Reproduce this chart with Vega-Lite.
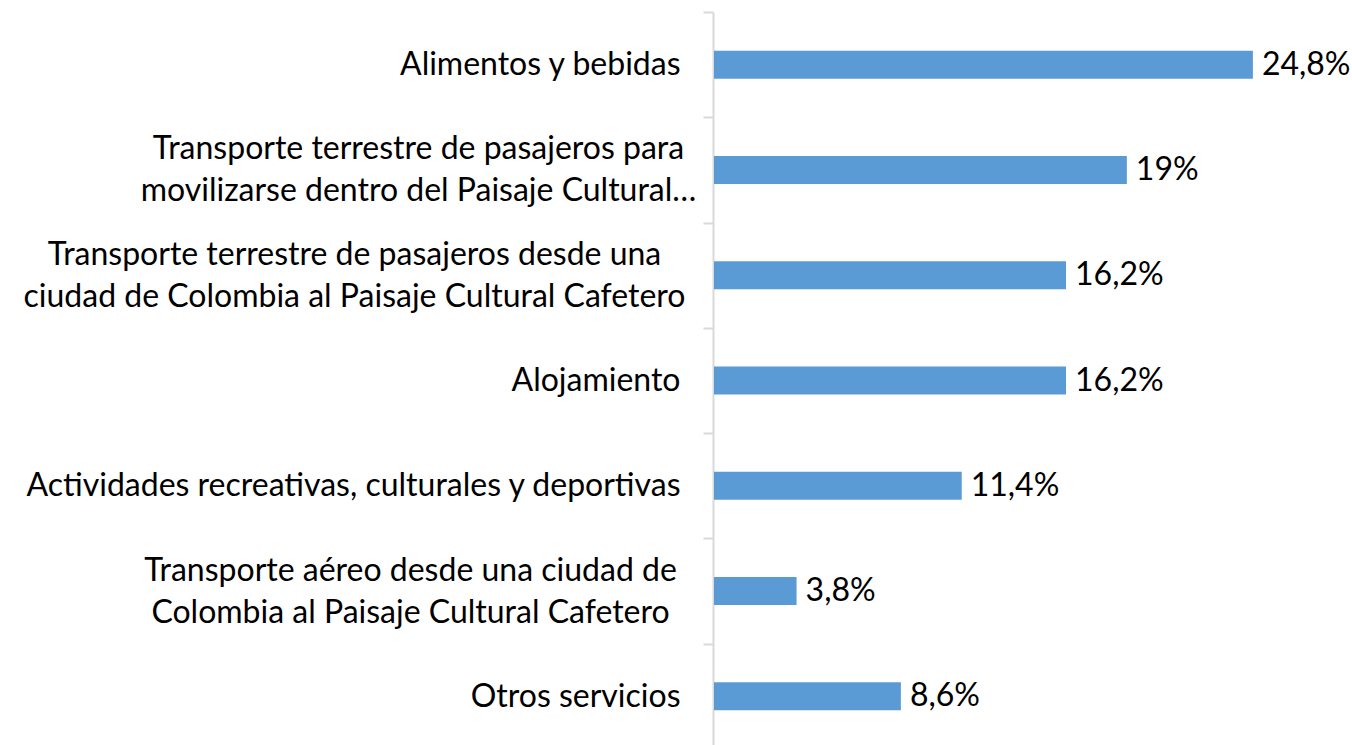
{
  "$schema": "https://vega.github.io/schema/vega-lite/v6.json",
  "width": 638,
  "height": 737,
  "autosize": {"type": "none"},
  "padding": {"left": 714, "top": 12, "right": 0, "bottom": 0},
  "background": "white",
  "config": {
    "view": {"stroke": null},
    "font": "Lato",
    "locale": {"number": {"decimal": ",", "thousands": ".", "grouping": [3], "currency": ["", " €"]}}
  },
  "data": {
    "values": [
      {"cat": "Alimentos y bebidas", "v": 0.248},
      {"cat": "Transporte terrestre de pasajeros para|movilizarse dentro del Paisaje Cultural…", "v": 0.19},
      {"cat": "Transporte terrestre de pasajeros desde una|ciudad de Colombia al Paisaje Cultural Cafetero", "v": 0.162},
      {"cat": "Alojamiento", "v": 0.162},
      {"cat": "Actividades recreativas, culturales y deportivas", "v": 0.114},
      {"cat": "Transporte aéreo desde una ciudad de|Colombia al Paisaje Cultural Cafetero", "v": 0.038},
      {"cat": "Otros servicios", "v": 0.086}
    ]
  },
  "encoding": {
    "y": {
      "field": "cat",
      "type": "nominal",
      "sort": null,
      "scale": {"paddingInner": 0, "paddingOuter": 0},
      "axis": {
        "title": null,
        "labelExpr": "split(datum.label, '|')",
        "labelLimit": 0,
        "labelFontSize": 32,
        "labelColor": "#000000",
        "labelLineHeight": 42,
        "labelBaseline": "middle",
        "labelAlign": {"condition": {"test": "isString(datum.value) && indexof(datum.value, '|') >= 0", "value": "center"}, "value": "right"},
        "labelOffset": {"condition": {"test": "isString(datum.value) && indexof(datum.value, '|') >= 0", "value": -21}, "value": 0},
        "labelPadding": {"condition": [
          {"test": "isString(datum.value) && indexof(datum.value, 'para|') >= 0", "value": 285},
          {"test": "isString(datum.value) && indexof(datum.value, 'una|') >= 0", "value": 349},
          {"test": "isString(datum.value) && indexof(datum.value, 'de|') >= 0", "value": 293}
        ], "value": 23},
        "tickBand": "extent",
        "tickSize": 10,
        "tickColor": "#d9d9d9",
        "tickWidth": 2,
        "domainColor": "#d9d9d9",
        "domainWidth": 2,
        "offset": 1
      }
    },
    "x": {
      "field": "v",
      "type": "quantitative",
      "scale": {"domain": [0, 0.2936], "nice": false},
      "axis": null
    }
  },
  "layer": [
    {"mark": {"type": "bar", "color": "#5B9BD5", "cornerRadius": 0, "height": {"band": 0.266}}},
    {
      "mark": {"type": "text", "align": "left", "dx": 9, "fontSize": 32, "color": "#000000"},
      "encoding": {"text": {"field": "v", "type": "quantitative", "format": ".1~%"}}
    }
  ]
}
